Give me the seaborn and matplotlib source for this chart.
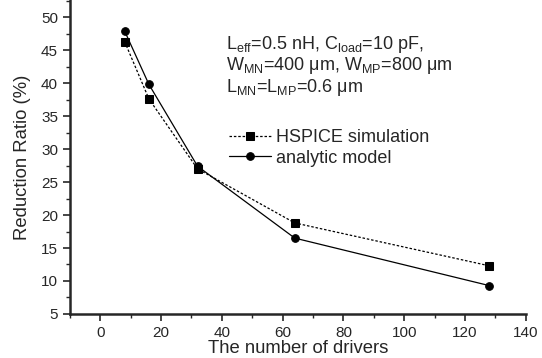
import pandas as pd
import numpy as np
import matplotlib
matplotlib.use("Agg")
import matplotlib.pyplot as plt
from matplotlib.ticker import MultipleLocator
import seaborn as sns

sns.set_style("ticks")
plt.rcParams['font.family'] = ['Liberation Sans', 'DejaVu Sans']
plt.rcParams['mathtext.fontset'] = 'custom'
plt.rcParams['mathtext.rm'] = 'Liberation Sans'
plt.rcParams['mathtext.it'] = 'Liberation Sans'

# data
drivers = [8, 16, 32, 64, 128]
hspice = [46.3, 37.6, 27.0, 18.8, 12.3]
analytic = [47.9, 39.8, 27.4, 16.5, 9.3]
series_names = ["HSPICE simulation", "analytic model"]

df = pd.DataFrame({
    "drivers": drivers * 2,
    "ratio": hspice + analytic,
    "series": [series_names[0]] * len(drivers) + [series_names[1]] * len(drivers),
})

fig = plt.figure(figsize=(5.42, 3.58), dpi=100)
ax = fig.add_axes([0.129, 0.123, 0.841, 0.877])

sns.lineplot(data=df, x="drivers", y="ratio", style="series",
             markers={series_names[0]: "s", series_names[1]: "o"},
             dashes={series_names[0]: (2, 1.5), series_names[1]: ""},
             color="black", linewidth=0.9, markersize=5.5,
             markeredgecolor="black", ax=ax)

ax.set_xlim(-10, 140)
ax.set_ylim(5, 52.6)
ax.xaxis.set_major_locator(MultipleLocator(20))
ax.xaxis.set_minor_locator(MultipleLocator(10))
ax.yaxis.set_major_locator(MultipleLocator(5))
ax.yaxis.set_minor_locator(MultipleLocator(2.5))
ax.tick_params(which="major", length=5, width=1.2, labelsize=11, direction="out")
ax.tick_params(which="minor", length=3, width=1.0, direction="out")

for s in ["top", "right"]:
    ax.spines[s].set_visible(False)
for s in ["left", "bottom"]:
    ax.spines[s].set_linewidth(1.8)

ax.set_xlabel("The number of drivers", fontsize=13.3, labelpad=0)
ax.set_ylabel("Reduction Ratio (%)", fontsize=13.3, labelpad=7)

leg = ax.legend(title=None, loc="upper left", bbox_to_anchor=(0.33, 0.618),
                frameon=False, fontsize=13, handlelength=2.3,
                handletextpad=0.3, labelspacing=0.2, borderpad=0)

ax.text(0.343, 0.893,
        r"L$_{\rm eff}$=0.5 nH, C$_{\rm load}$=10 pF," "\n"
        r"W$_{\rm MN}$=400 μm, W$_{\rm MP}$=800 μm" "\n"
        r"L$_{\rm MN}$=L$_{\rm MP}$=0.6 μm",
        transform=ax.transAxes, fontsize=13, va="top", ha="left",
        linespacing=1.05)

fig.savefig("out.png", dpi=100)
